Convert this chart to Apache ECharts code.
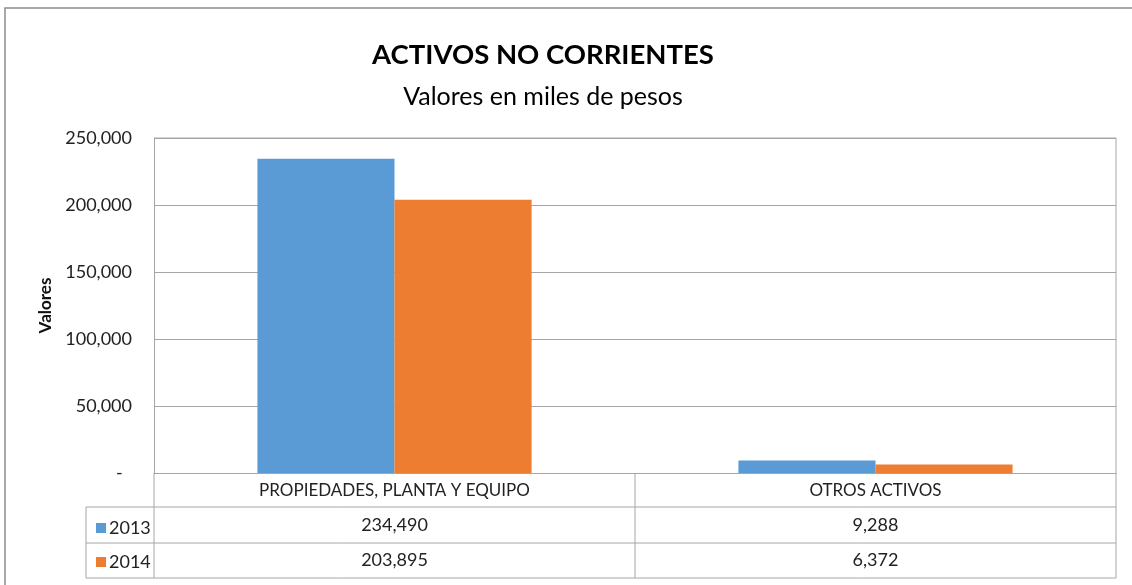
<!DOCTYPE html>
<html lang="es">
<head>
<meta charset="UTF-8">
<title>Activos no corrientes</title>
<script src="https://cdn.jsdelivr.net/npm/echarts@6/dist/echarts.min.js"></script>
<style>
    html, body { margin: 0; padding: 0; background: #fff; }
    #chart { width: 1132px; height: 585px; }
</style>
</head>
<body>
<div id="chart"></div>
<script>
    // datos
    var categorias = ['PROPIEDADES, PLANTA Y EQUIPO', 'OTROS ACTIVOS'];
    var anios = ['2013', '2014'];
    var valores2013 = [234490, 9288];
    var valores2014 = [203895, 6372];
    var ticksY = [0, 50000, 100000, 150000, 200000, 250000];

    var colores = ['#5B9BD5', '#ED7D31'];
    var fuente = 'Lato';
    var gris = '#a6a6a6';

    // formato contable: cero como guion
    function fmt(v) {
        return v === 0 ? '-  ' : v.toLocaleString('en-US');
    }

    var myChart = echarts.init(document.getElementById('chart'));

    // tabla de datos debajo del grafico
    var gLeft = 154, gRight = 1116, gTop = 138, gBase = 473;
    var filas = [507, 543, 578];
    var gMid = (gLeft + gRight) / 2;
    var lineas = [];
    function linea(x1, y1, x2, y2) {
        lineas.push({
            type: 'line', silent: true,
            shape: { x1: x1, y1: y1, x2: x2, y2: y2 },
            style: { stroke: gris, lineWidth: 1 }
        });
    }
    linea(gLeft, gBase, gLeft, filas[2]);
    linea(gMid, gBase, gMid, filas[2]);
    linea(gRight, gBase, gRight, filas[2]);
    linea(86, filas[0], 86, filas[2]);
    filas.forEach(function (y) { linea(86, y, gRight, y); });

    var option = {
        animation: false,
        textStyle: { fontFamily: fuente },
        grid: { left: gLeft, right: 1132 - gRight, top: gTop, bottom: 585 - gBase },
        legend: {
            data: anios,
            orient: 'vertical',
            left: 91, top: 514,
            itemWidth: 10, itemHeight: 10, itemGap: 16,
            icon: 'rect',
            textStyle: { fontFamily: fuente, fontSize: 18, color: '#222', padding: [0, 0, 0, -2] }
        },
        xAxis: [{
            type: 'category',
            data: categorias,
            axisLine: { show: true, lineStyle: { color: gris } },
            axisTick: { show: false },
            axisLabel: { fontFamily: fuente, fontSize: 17, color: '#222', margin: 9 }
        }, {
            type: 'category', position: 'bottom', offset: 34,
            data: categorias,
            axisLine: { show: false }, axisTick: { show: false },
            axisLabel: {
                fontFamily: fuente, fontSize: 18, color: '#222', margin: 9,
                formatter: function (v, i) { return fmt(valores2013[i]); }
            }
        }, {
            type: 'category', position: 'bottom', offset: 70,
            data: categorias,
            axisLine: { show: false }, axisTick: { show: false },
            axisLabel: {
                fontFamily: fuente, fontSize: 18, color: '#222', margin: 8,
                formatter: function (v, i) { return fmt(valores2014[i]); }
            }
        }],
        yAxis: {
            type: 'value',
            min: ticksY[0], max: ticksY[ticksY.length - 1], interval: ticksY[1] - ticksY[0],
            name: 'Valores',
            nameLocation: 'middle',
            nameRotate: 90,
            nameGap: 100,
            nameTextStyle: { fontFamily: fuente, fontSize: 17, fontWeight: 'bold', color: '#111' },
            axisLine: { show: true, lineStyle: { color: gris } },
            axisTick: { show: false },
            splitLine: { lineStyle: { color: gris } },
            axisLabel: { fontFamily: fuente, fontSize: 18, color: '#222', margin: 22, formatter: fmt }
        },
        series: [{
            name: anios[0], type: 'bar', data: valores2013,
            barCategoryGap: '43%', barGap: '0%',
            itemStyle: { color: colores[0] }
        }, {
            name: anios[1], type: 'bar', data: valores2014,
            barCategoryGap: '43%', barGap: '0%',
            itemStyle: { color: colores[1] }
        }],
        graphic: [
            // borde exterior
            { type: 'rect', silent: true, shape: { x: 5, y: 8, width: 1200, height: 700 },
              style: { fill: 'none', stroke: '#8c8c8c', lineWidth: 1.5 } },
            // borde del area de trazado
            { type: 'line', silent: true, shape: { x1: gLeft, y1: gTop, x2: gRight, y2: gTop }, style: { stroke: gris } },
            { type: 'line', silent: true, shape: { x1: gRight, y1: gTop, x2: gRight, y2: gBase }, style: { stroke: gris } },
            { type: 'text', silent: true,
              style: { x: 543, y: 55, text: 'ACTIVOS NO CORRIENTES', textAlign: 'center', textVerticalAlign: 'middle',
                       font: 'bold 27.5px ' + fuente, fill: '#000' } },
            { type: 'text', silent: true,
              style: { x: 543, y: 97, text: 'Valores en miles de pesos', textAlign: 'center', textVerticalAlign: 'middle',
                       font: '25px ' + fuente, fill: '#000' } }
        ].concat(lineas)
    };

    myChart.setOption(option);
</script>
</body>
</html>
